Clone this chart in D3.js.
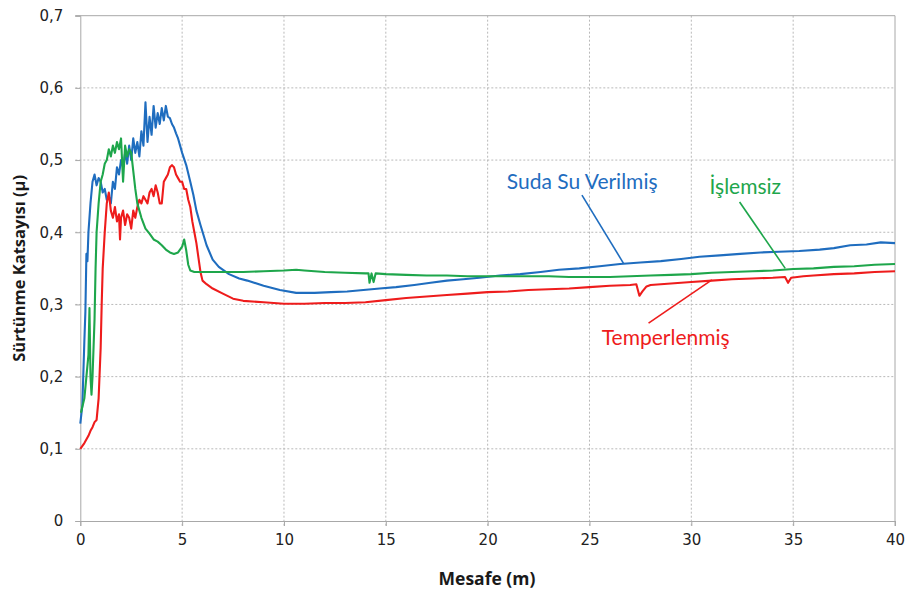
<!DOCTYPE html>
<html>
<head>
<meta charset="utf-8">
<script src="https://cdn.jsdelivr.net/npm/d3@7"></script>
<style>
  html, body { margin: 0; padding: 0; background: #fff; }
  svg { display: block; }
</style>
</head>
<body>
<svg id="chart" width="909" height="595"></svg>
<script>
// ---- Data ----
const xTicks = [0, 5, 10, 15, 20, 25, 30, 35, 40];
const yTicks = [0, 0.1, 0.2, 0.3, 0.4, 0.5, 0.6, 0.7];
const yTickLabels = ["0", "0,1", "0,2", "0,3", "0,4", "0,5", "0,6", "0,7"];

const seriesNames = ["Suda Su Verilmiş", "Temperlenmiş", "İşlemsiz"];

// Suda Su Verilmiş (blue)
const blueX = [0, 0.1, 0.2, 0.25, 0.3, 0.35, 0.4, 0.5, 0.6, 0.7, 0.8, 0.9, 1.0, 1.1, 1.2, 1.3, 1.4, 1.5, 1.6, 1.7, 1.8, 1.9,
  2.0, 2.1, 2.2, 2.3, 2.4, 2.5, 2.6, 2.7, 2.8, 2.9, 3.0, 3.1, 3.2, 3.3, 3.4, 3.5, 3.6, 3.7, 3.8, 3.9,
  4.0, 4.1, 4.2, 4.3, 4.4, 4.5, 4.6, 4.7, 4.8, 4.9, 5.0, 5.2, 5.4, 5.55, 5.7, 5.9, 6.2, 6.5, 6.8, 7.3, 7.8, 8.2, 9.0, 9.8,
  10.6, 11.5, 12.3, 13.1, 13.9, 14.7, 15.5, 16.4, 17.2, 18.0, 18.8, 19.6, 20.6, 21.6, 22.6, 23.5, 24.5, 25.5, 26.5,
  27.5, 28.5, 29.5, 30.4, 31.4, 32.4, 33.4, 34.3, 35.3, 36.3, 37.0, 37.8, 38.6, 39.3, 40.0];
const blueY = [0.135, 0.16, 0.25, 0.29, 0.37, 0.36, 0.40, 0.44, 0.47, 0.48, 0.465, 0.475, 0.47, 0.455, 0.46, 0.445, 0.45, 0.44, 0.47, 0.46, 0.49, 0.48,
  0.50, 0.49, 0.51, 0.495, 0.52, 0.50, 0.53, 0.51, 0.525, 0.505, 0.54, 0.52, 0.58, 0.525, 0.56, 0.535, 0.575, 0.545, 0.565, 0.55,
  0.572, 0.555, 0.575, 0.56, 0.558, 0.55, 0.545, 0.537, 0.53, 0.52, 0.51, 0.493, 0.47, 0.452, 0.43, 0.41, 0.382, 0.362, 0.352, 0.342, 0.336, 0.333, 0.326, 0.320,
  0.316, 0.316, 0.317, 0.318, 0.320, 0.322, 0.324, 0.327, 0.330, 0.333, 0.335, 0.337, 0.340, 0.342, 0.345, 0.348, 0.350, 0.353, 0.356,
  0.358, 0.360, 0.363, 0.366, 0.368, 0.370, 0.372, 0.373, 0.374, 0.376, 0.378, 0.382, 0.383, 0.386, 0.385];

// Temperlenmiş (red)
const redX = [0, 0.2, 0.4, 0.5, 0.6, 0.7, 0.8, 0.9, 1.0, 1.05, 1.1, 1.2, 1.3, 1.4, 1.5, 1.6, 1.7, 1.8, 1.9, 1.95,
  2.0, 2.1, 2.2, 2.3, 2.4, 2.5, 2.6, 2.7, 2.8, 2.9, 3.0, 3.1, 3.2, 3.3, 3.4, 3.5, 3.6, 3.7, 3.8, 3.9,
  4.0, 4.1, 4.2, 4.3, 4.4, 4.5, 4.6, 4.7, 4.8, 4.9, 5.0, 5.1, 5.2, 5.3, 5.4, 5.5, 5.6, 5.7, 5.8, 5.9, 6.0, 6.2, 6.5, 7.0, 7.5, 8.0,
  9, 10, 11, 12, 13, 14, 15, 16, 17, 18, 19, 20, 21, 22, 23, 24, 25, 26, 27, 27.3, 27.45, 27.6, 27.8, 28, 29, 30, 31, 32, 33, 34,
  34.6, 34.75, 34.9, 35.5, 36, 37, 38, 39, 40];
const redY = [0.10, 0.108, 0.118, 0.125, 0.13, 0.137, 0.14, 0.17, 0.24, 0.30, 0.35, 0.40, 0.44, 0.455, 0.43, 0.42, 0.435, 0.415, 0.425, 0.39,
  0.42, 0.43, 0.41, 0.425, 0.42, 0.405, 0.43, 0.42, 0.435, 0.445, 0.44, 0.45, 0.445, 0.44, 0.455, 0.46, 0.45, 0.465, 0.455, 0.44,
  0.44, 0.47, 0.475, 0.48, 0.49, 0.493, 0.49, 0.48, 0.475, 0.47, 0.47, 0.46, 0.46, 0.445, 0.435, 0.415, 0.40, 0.385, 0.365, 0.345, 0.333, 0.328, 0.322, 0.315, 0.308, 0.305,
  0.303, 0.301, 0.301, 0.302, 0.302, 0.303, 0.306, 0.309, 0.311, 0.313, 0.315, 0.317, 0.318, 0.320, 0.321, 0.322, 0.324, 0.326, 0.327, 0.328, 0.312, 0.318, 0.325, 0.327, 0.329, 0.331, 0.333, 0.335, 0.336, 0.337,
  0.338, 0.330, 0.337, 0.339, 0.340, 0.342, 0.343, 0.345, 0.346];

// İşlemsiz (green)
const greenX = [0.03, 0.2, 0.3, 0.4, 0.45, 0.5, 0.55, 0.6, 0.7, 0.75, 0.8, 0.9, 1.0, 1.1, 1.2, 1.3, 1.4, 1.5, 1.6, 1.7, 1.8, 1.9,
  2.0, 2.1, 2.2, 2.3, 2.4, 2.5, 2.6, 2.7, 2.8, 2.9, 3.0, 3.2, 3.4, 3.6, 3.8, 4.0, 4.2, 4.4, 4.6, 4.8, 5.0, 5.1, 5.2, 5.3, 5.4, 5.6,
  6, 7, 8, 9, 10, 10.6, 11, 12, 13, 14, 14.15, 14.2, 14.3, 14.4, 14.5, 15, 16, 17, 18, 19, 20, 21, 22, 23, 24, 25, 26, 27,
  28, 29, 30, 31, 32, 33, 34, 35, 36, 37, 38, 39, 40];
const greenY = [0.15, 0.17, 0.20, 0.23, 0.295, 0.20, 0.175, 0.20, 0.28, 0.35, 0.40, 0.44, 0.47, 0.48, 0.495, 0.50, 0.515, 0.505, 0.52, 0.51, 0.525, 0.515,
  0.53, 0.47, 0.52, 0.505, 0.515, 0.51, 0.485, 0.46, 0.44, 0.43, 0.42, 0.405, 0.398, 0.39, 0.387, 0.382, 0.376, 0.372, 0.37, 0.372, 0.38, 0.39, 0.375, 0.355, 0.347, 0.345,
  0.345, 0.345, 0.345, 0.346, 0.347, 0.348, 0.347, 0.345, 0.344, 0.343, 0.343, 0.330, 0.343, 0.331, 0.343, 0.342, 0.341, 0.340, 0.340, 0.339, 0.339, 0.339, 0.339, 0.339, 0.338, 0.338, 0.338, 0.339,
  0.340, 0.341, 0.342, 0.344, 0.345, 0.346, 0.347, 0.349, 0.350, 0.352, 0.353, 0.355, 0.356];

// Annotation labels (text, data-space anchor, leader line in data space)
const annotTexts = ["Suda Su Verilmiş", "İşlemsiz", "Temperlenmiş"];
const annotPos = [[24.64, 0.472], [32.65, 0.465], [28.74, 0.255]];
const leaderLines = [[[24.63, 0.4515], [26.67, 0.357]], [[32.37, 0.442], [34.61, 0.35]], [[27.9, 0.274], [31.01, 0.334]]];
const colors = ["#1f6dbf", "#ee1c1c", "#1ea64b"];
const annotColors = ["#1f6dbf", "#1ea64b", "#ee1c1c"];

// ---- Drawing ----
const svg = d3.select("#chart");
const x = d3.scaleLinear().domain([0, 40]).range([80.3, 895]);
const y = d3.scaleLinear().domain([0, 0.7]).range([521, 15.7]);

const gridColor = "#b9b9b9";
// horizontal gridlines
svg.append("g").selectAll("line").data(yTicks.filter(d => d > 0 && d < 0.7)).join("line")
  .attr("x1", x(0) - 5).attr("x2", x(40))
  .attr("y1", d => y(d)).attr("y2", d => y(d))
  .attr("stroke", gridColor).attr("stroke-width", 1).attr("stroke-dasharray", "2,2");
// vertical gridlines
svg.append("g").selectAll("line").data(xTicks.filter(d => d > 0 && d < 40)).join("line")
  .attr("x1", d => x(d)).attr("x2", d => x(d))
  .attr("y1", y(0.7)).attr("y2", y(0) + 5)
  .attr("stroke", gridColor).attr("stroke-width", 1).attr("stroke-dasharray", "2,2");
// frame
svg.append("line").attr("x1", x(0) - 5).attr("x2", x(40)).attr("y1", y(0.7)).attr("y2", y(0.7)).attr("stroke", "#a8a8a8");
svg.append("line").attr("x1", x(40)).attr("x2", x(40)).attr("y1", y(0.7)).attr("y2", y(0) + 5).attr("stroke", "#a8a8a8");

// axes
const xAxis = d3.axisBottom(x).tickValues(xTicks).tickFormat(d => String(d)).tickSize(5).tickPadding(8);
const yAxis = d3.axisLeft(y).tickValues(yTicks).tickFormat((d, i) => yTickLabels[i]).tickSize(5).tickPadding(12);
const gx = svg.append("g").attr("transform", `translate(0,${y(0)})`).call(xAxis);
const gy = svg.append("g").attr("transform", `translate(${x(0)},0)`).call(yAxis);
[gx, gy].forEach(g => {
  g.select(".domain").attr("stroke", "#a8a8a8");
  g.selectAll(".tick line").attr("stroke", "#a8a8a8");
  g.selectAll("text").attr("fill", "#222").style("font-family", "DejaVu Sans, Verdana, sans-serif").style("font-size", "15px");
});

// series
const seriesData = [
  blueX.map((d, i) => [d, blueY[i]]),
  redX.map((d, i) => [d, redY[i]]),
  greenX.map((d, i) => [d, greenY[i]])
];
const line = d3.line().x(d => x(d[0])).y(d => y(d[1]));
svg.append("g").selectAll("path").data(seriesData).join("path")
  .attr("d", line).attr("fill", "none")
  .attr("stroke", (d, i) => colors[i]).attr("stroke-width", 2.1)
  .attr("stroke-linejoin", "round");

// leader lines
svg.append("g").selectAll("line").data(leaderLines).join("line")
  .attr("x1", d => x(d[0][0])).attr("y1", d => y(d[0][1]))
  .attr("x2", d => x(d[1][0])).attr("y2", d => y(d[1][1]))
  .attr("stroke", (d, i) => annotColors[i]).attr("stroke-width", 1.6);

// annotation texts
svg.append("g").selectAll("text").data(annotTexts).join("text")
  .attr("x", (d, i) => x(annotPos[i][0])).attr("y", (d, i) => y(annotPos[i][1]))
  .attr("text-anchor", "middle").attr("dominant-baseline", "central")
  .attr("fill", (d, i) => annotColors[i])
  .style("font-family", "Lato, 'Open Sans', sans-serif").style("font-size", "21px").style("font-weight", "normal")
  .text(d => d);

// axis titles
svg.append("text").attr("x", 487).attr("y", 578).attr("text-anchor", "middle").attr("dominant-baseline", "central")
  .attr("fill", "#1a1a1a").style("font-family", "'Open Sans', sans-serif").style("font-size", "17.5px").style("font-weight", "bold")
  .text("Mesafe (m)");
svg.append("text").attr("transform", `translate(18,${(y(0) + y(0.7)) / 2}) rotate(-90)`)
  .attr("text-anchor", "middle").attr("dominant-baseline", "central")
  .attr("fill", "#1a1a1a").style("font-family", "'Open Sans', sans-serif").style("font-size", "16.5px").style("font-weight", "bold")
  .text("Sürtünme Katsayısı (μ)");
</script>
</body>
</html>
